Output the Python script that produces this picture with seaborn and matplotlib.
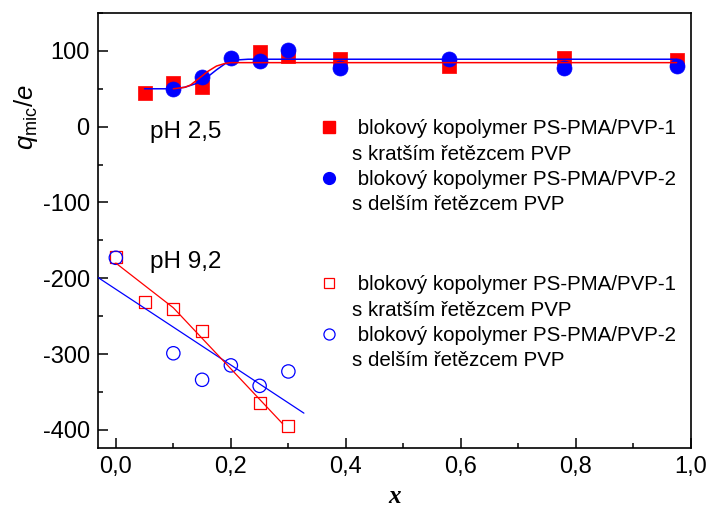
import matplotlib
matplotlib.use("Agg")
import matplotlib.pyplot as plt
import seaborn as sns
import pandas as pd
from matplotlib.ticker import MultipleLocator, FuncFormatter
from matplotlib.lines import Line2D

# ---- data: pH 2,5 (filled markers) ----
x_ph25_1 = [0.05, 0.10, 0.15, 0.25, 0.30, 0.39, 0.58, 0.78, 0.975]
q_ph25_1 = [44, 57, 53, 99, 93, 89, 80, 91, 88]
x_ph25_2 = [0.10, 0.15, 0.20, 0.25, 0.30, 0.39, 0.58, 0.78, 0.975]
q_ph25_2 = [50, 66, 90, 87, 101, 77, 89, 77, 80]
# fitted curves
fit_x_1 = [0.10, 0.12, 0.13, 0.14, 0.15, 0.16, 0.175, 0.19, 0.20, 0.22, 0.975]
fit_q_1 = [50, 52, 55, 61, 67, 73, 80, 83.5, 84.5, 84.5, 84.5]
fit_x_2 = [0.05, 0.10, 0.12, 0.14, 0.15, 0.16, 0.175, 0.19, 0.20, 0.21, 0.23, 0.975]
fit_q_2 = [50, 50, 52, 57, 61, 66, 75, 83, 86, 88, 89, 89]

# ---- data: pH 9,2 (open markers) ----
x_ph92_1 = [0.0, 0.05, 0.10, 0.15, 0.25, 0.30]
q_ph92_1 = [-172, -231, -241, -269, -365, -395]
x_ph92_2 = [0.0, 0.10, 0.15, 0.20, 0.25, 0.30]
q_ph92_2 = [-173, -299, -334, -315, -342, -323]
line_x_1 = [0.0, 0.10, 0.29]
line_q_1 = [-180, -239, -392]
line_x_2 = [-0.031, 0.327]
line_q_2 = [-199, -378]

x_ticks = [0.0, 0.2, 0.4, 0.6, 0.8, 1.0]
y_ticks = [-400, -300, -200, -100, 0, 100]

label_1 = " blokový kopolymer PS-PMA/PVP-1"
label_1b = "s kratším řetězcem PVP"
label_2 = " blokový kopolymer PS-PMA/PVP-2"
label_2b = "s delším řetězcem PVP"

RED = "#ff0000"
BLUE = "#0000ff"

sns.set_theme(style="ticks")
plt.rcParams.update({
    "font.family": ["Liberation Sans", "DejaVu Sans"],
    "axes.unicode_minus": False,
    "mathtext.fontset": "custom",
    "mathtext.rm": "Liberation Sans",
    "mathtext.it": "Liberation Sans:italic",
    "axes.linewidth": 1.2,
    "axes.edgecolor": "black",
    "text.color": "black",
    "axes.labelcolor": "black",
    "xtick.color": "black",
    "ytick.color": "black",
})

fig = plt.figure(figsize=(7.11, 5.11), dpi=100)
ax = fig.add_axes([98/711, 1-448/511, (691-98)/711, (448-13)/511])
ax.set_facecolor("white")
fig.patch.set_facecolor("white")

# pH 2,5
sns.scatterplot(x=x_ph25_1, y=q_ph25_1, ax=ax, marker="s", s=9.4**2,
                color=RED, edgecolor=RED, linewidth=0.5, zorder=3)
sns.scatterplot(x=x_ph25_2, y=q_ph25_2, ax=ax, marker="o", s=10.8**2,
                color=BLUE, edgecolor=BLUE, linewidth=0.5, zorder=4)
sns.lineplot(x=fit_x_2, y=fit_q_2, ax=ax, color=BLUE, lw=1.1, sort=False,
             estimator=None, zorder=5)
sns.lineplot(x=fit_x_1, y=fit_q_1, ax=ax, color=RED, lw=1.1, sort=False,
             estimator=None, zorder=6)

# pH 9,2
sns.scatterplot(x=x_ph92_1, y=q_ph92_1, ax=ax, marker="s", s=8.6**2,
                facecolor="none", edgecolor=RED, linewidth=0.9, zorder=3)
sns.scatterplot(x=x_ph92_2, y=q_ph92_2, ax=ax, marker="o", s=9.6**2,
                facecolor="none", edgecolor=BLUE, linewidth=0.9, zorder=4)
sns.lineplot(x=line_x_2, y=line_q_2, ax=ax, color=BLUE, lw=0.9, sort=False,
             estimator=None, zorder=5)
sns.lineplot(x=line_x_1, y=line_q_1, ax=ax, color=RED, lw=0.9, sort=False,
             estimator=None, zorder=6)

ax.set_xlim(-0.031, 1.0)
ax.set_ylim(-424, 150)
ax.set_xticks(x_ticks)
ax.set_yticks(y_ticks)
ax.xaxis.set_minor_locator(MultipleLocator(0.1))
ax.yaxis.set_minor_locator(MultipleLocator(50))
ax.xaxis.set_major_formatter(FuncFormatter(lambda v, _: f"{v:.1f}".replace(".", ",")))
ax.yaxis.set_major_formatter(FuncFormatter(lambda v, _: f"{v:.0f}"))
ax.tick_params(which="major", direction="in", length=7, width=1.1,
               labelsize=17, pad=6, colors="black")
ax.tick_params(which="minor", direction="in", length=3.6, width=1.1)
ax.tick_params(top=False, right=False, which="both")
for sp in ax.spines.values():
    sp.set_visible(True)
    sp.set_color("black")
    sp.set_linewidth(1.2)

ax.set_ylabel(r"$q_{\mathrm{mic}}/e$", fontsize=18.5)
ax.yaxis.set_label_coords(-0.098, 0.76)
ax.set_xlabel("x", fontsize=18, fontfamily="Liberation Serif",
              fontstyle="italic", fontweight="bold", labelpad=5)

ax.text(0.059, -6.6, "pH 2,5", fontsize=17.5, ha="left", va="center")
ax.text(0.059, -179, "pH 9,2", fontsize=17.5, ha="left", va="center")

# legends
def make_legend(handles, labels, y_top_px):
    leg = ax.legend(handles, labels, loc="upper left",
                    bbox_to_anchor=(318.5/711, 1 - y_top_px/511),
                    bbox_transform=fig.transFigure, frameon=False,
                    fontsize=14.8, handlelength=1.0, handletextpad=0.606,
                    borderpad=0, borderaxespad=0, labelspacing=0.3)
    for t in leg.get_texts():
        t.set_color("black")
    return leg

blank = Line2D([], [], linestyle="none", marker=None)
h_fill = [Line2D([], [], ls="none", marker="s", ms=8, color=RED, mec=RED), blank,
          Line2D([], [], ls="none", marker="o", ms=8.5, color=BLUE, mec=BLUE), blank]
h_open = [Line2D([], [], ls="none", marker="s", ms=7.5, mfc="none", mec=RED, mew=0.9), blank,
          Line2D([], [], ls="none", marker="o", ms=8, mfc="none", mec=BLUE, mew=0.9), blank]
labels = [label_1, label_1b, label_2, label_2b]
leg1 = make_legend(h_fill, labels, 119.5)
ax.add_artist(leg1)
leg2 = make_legend(h_open, labels, 275.5)

fig.savefig("out.png", dpi=100, facecolor="white")
